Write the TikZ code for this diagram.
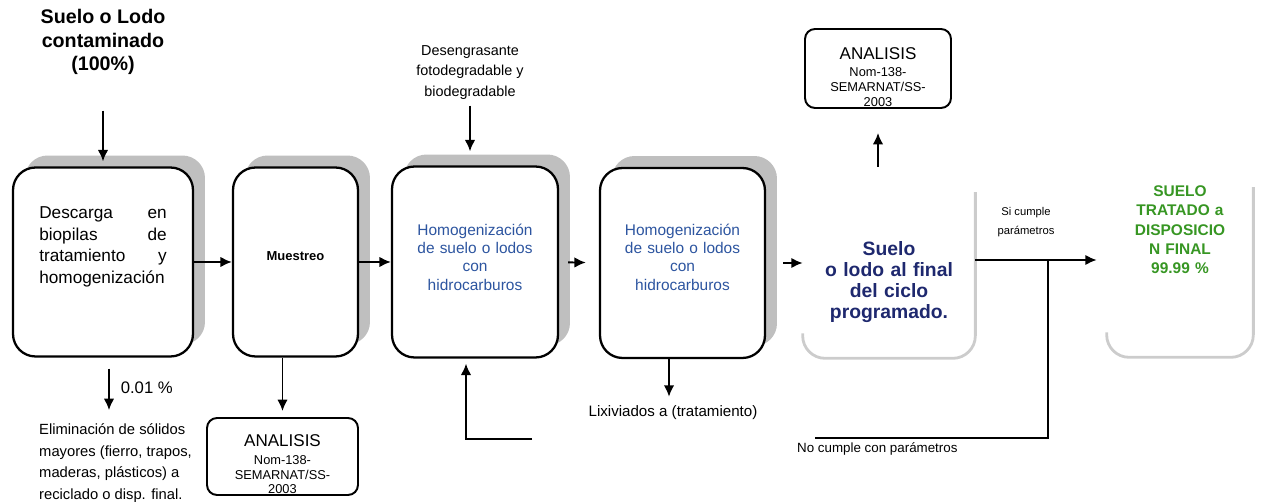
\documentclass[tikz,border=0pt]{standalone}
\usepackage{fontspec}
\setmainfont{Liberation Sans}
\usetikzlibrary{shapes,arrows.meta,shadows,calc}

\definecolor{azul}{RGB}{45,85,160}
\definecolor{marino}{RGB}{30,40,110}
\definecolor{verde}{RGB}{55,150,35}

\tikzstyle{block} = [rectangle, draw=black, line width=1.3pt, fill=white,
rounded corners=0.45cm, align=center,
general shadow={shadow xshift=0.24cm, shadow yshift=0.24cm, fill=gray!50, draw=none}]
\tikzstyle{bare} = [rectangle, align=center, inner sep=0pt]
\tikzstyle{rim} = [draw=gray!40, line width=1.6pt, rounded corners=0.45cm]
\tikzstyle{analysis} = [rectangle, draw=black, line width=1.1pt, fill=white,
rounded corners=0.2cm, align=center, inner sep=0pt, text width=2.8cm,
font=\fontsize{7.3}{8.4}\selectfont]
\tikzstyle{note} = [align=center]
\tikzstyle{line} = [draw, -{Latex[length=6.5pt,width=6pt]}, line width=1.1pt]
\tikzstyle{wire} = [draw, line width=1.1pt]
\tikzset{textup/.style={execute at end node={\par\vspace*{#1}}},
         textdown/.style={execute at begin node={\par\vspace*{#1}}}}

\begin{document}
\begin{tikzpicture}[x=0.02cm, y=-0.02cm]
  \useasboundingbox (0,0) rectangle (1261,502);

  % main line of boxes
  \node [block, minimum width=3.6cm, minimum height=3.78cm, text width=2.55cm,
         align=justify, textup=0.6cm, font=\fontsize{9.8}{12.2}\selectfont]
        (descarga) at (103,262) {Descarga\hfill en\\biopilas\hfill de\\tratamiento\hfill y\\homogenización};
  \node [block, minimum width=2.5cm, minimum height=3.78cm, text width=2.2cm,
         textup=0.24cm, font=\fontsize{7.4}{9}\selectfont\bfseries]
        (muestreo) at (295.5,262) {Muestreo};
  \node [block, minimum width=3.32cm, minimum height=3.82cm, text width=3cm,
         textup=0.2cm, text=azul, font=\fontsize{8.8}{10.4}\selectfont]
        (homog1) at (475,262) {Homogenización\\de suelo o lodos\\con\\hidrocarburos};
  \node [block, minimum width=3.3cm, minimum height=3.8cm, text width=3cm,
         textup=0.24cm, text=azul, font=\fontsize{8.8}{10.4}\selectfont]
        (homog2) at (682.5,263) {Homogenización\\de suelo o lodos\\con\\hidrocarburos};
  \node [bare, minimum width=3.44cm, minimum height=3.46cm, text width=3.2cm,
         textdown=0.28cm, text=marino, font=\fontsize{11}{11.9}\selectfont\bfseries]
        (final) at (889,271.5) {Suelo\\o lodo al final\\del ciclo\\programado.};
  \node [bare, minimum width=2.92cm, minimum height=3.54cm, text width=2.7cm,
         textup=1.55cm, text=verde, font=\fontsize{8.8}{11}\selectfont\bfseries]
        (tratado) at (1180,268.5) {SUELO\\TRATADO a\\DISPOSICIO\\N FINAL\\99.99 \%};
  \draw [rim] ([yshift=-0.15cm]final.north east) -- (final.south east)
        -- (final.south west) -- ([yshift=0.5cm]final.south west);
  \draw [rim] ([yshift=-0.15cm]tratado.north east) -- (tratado.south east)
        -- (tratado.south west) -- ([yshift=0.5cm]tratado.south west);

  % inputs, outputs and samples
  \node [note, font=\fontsize{11.2}{13.3}\selectfont\bfseries]
        (suelo) at (103,42) {Suelo o Lodo\\contaminado\\(100\%)};
  \node [note, font=\fontsize{8.2}{11.6}\selectfont]
        (desengrasante) at (470,72.5) {Desengrasante\\fotodegradable y\\biodegradable};
  \node [note, align=left, anchor=west, font=\fontsize{8.4}{12.4}\selectfont]
        (eliminacion) at (33,463) {Eliminación de sólidos\\mayores (fierro, trapos,\\maderas, plásticos) a\\reciclado o disp. final.};
  \node [analysis, minimum width=3.02cm, minimum height=1.54cm, textdown=0.26cm]
        (analisis1) at (282.5,456.5) {{\fontsize{9.7}{11}\selectfont ANALISIS}\\[1.5pt]Nom-138-\\SEMARNAT/SS-\\2003};
  \node [analysis, minimum width=2.92cm, minimum height=1.58cm, textdown=0.28cm]
        (analisis2) at (878,68.5) {{\fontsize{9.7}{11}\selectfont ANALISIS}\\[1.5pt]Nom-138-\\SEMARNAT/SS-\\2003};
  \node [note, font=\fontsize{8.6}{10}\selectfont]
        (lixiviados) at (673,413) {Lixiviados a (tratamiento)};
  \node [note, anchor=west, font=\fontsize{7.6}{9}\selectfont]
        (nocumple) at (791,449) {No cumple con parámetros};
  \node [note, font=\fontsize{6.4}{10.8}\selectfont]
        (sicumple) at (1026,222) {Si cumple\\parámetros};

  \coordinate (reciclo) at (532,439);
  \coordinate (bifurca) at (1048,260);
  \coordinate (retorno) at (815,438);

  \path [line] (suelo) edge[shorten <=0.6cm, shorten >=0.1cm] (descarga);
  \path [line] (desengrasante) edge[shorten >=0.28cm] (desengrasante |- homog1.north);
  \path [line] (descarga) edge (muestreo);
  \path [line] (muestreo) edge (homog1);
  \path [line] (homog1) edge[shorten <=0.18cm, shorten >=0.26cm] (homog2);
  \draw [line, shorten <=0.34cm] (homog2.east) -- (final.west |- homog2.east);
  \draw [line, shorten >=0.2cm] (final.east |- bifurca) -- (tratado.west |- bifurca);
  \draw [line, shorten <=0.36cm, shorten >=0.48cm] (final.north -| analisis2.south) -- (analisis2.south);
  \draw [line, shorten <=0.22cm, shorten >=0.14cm] ([xshift=0.12cm]descarga.south)
        -- node[right, xshift=0.1cm, font=\fontsize{9.5}{11}\selectfont] {0.01 \%}
        ([xshift=0.12cm]descarga.south |- eliminacion.north);
  \draw [line, shorten >=0.12cm] (muestreo.south -| analisis1.north) -- (analisis1.north);
  \draw [line, shorten >=0.06cm] ([xshift=-0.27cm]homog2.south) -- ([xshift=-0.27cm]homog2.south |- lixiviados.north);
  \draw [line, shorten >=0.1cm] (reciclo) -| ([xshift=-0.18cm]homog1.south);
  \draw [wire] (bifurca) |- (retorno);
\end{tikzpicture}
\end{document}
